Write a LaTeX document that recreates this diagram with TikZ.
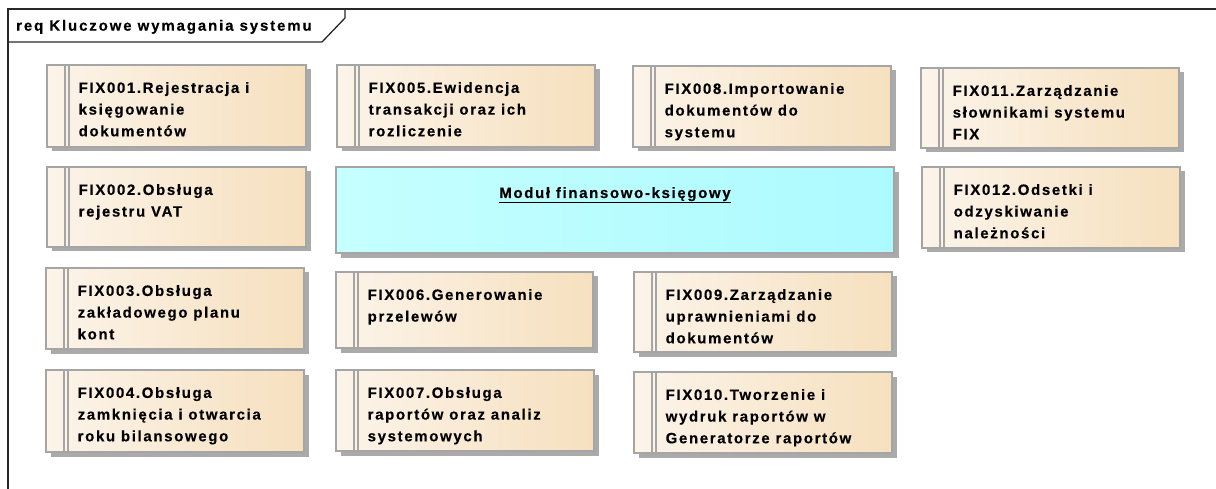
\documentclass[tikz,border=0pt]{standalone}
\usepackage{fontspec}
\setmainfont{Liberation Sans}
\newfontfamily\reqfont[LetterSpace=11,FakeBold=0.3]{Liberation Sans}
\newfontfamily\ttlfont[LetterSpace=12.5,FakeBold=0.3]{Liberation Sans}
\newfontfamily\modfont[LetterSpace=11,FakeBold=0.3]{Liberation Sans}
\usetikzlibrary{shadows}
\definecolor{reqL}{RGB}{252,244,234}
\definecolor{reqR}{RGB}{246,224,190}
\definecolor{modL}{RGB}{198,255,255}
\definecolor{modR}{RGB}{172,250,255}
\definecolor{boxgray}{RGB}{165,165,165}
\definecolor{shadowgray}{RGB}{170,170,170}
\definecolor{framecol}{RGB}{40,40,40}
\tikzset{
  reqbox/.style={draw=boxgray, line width=1.2pt, left color=reqL, right color=reqR,
    anchor=north west, inner sep=0pt, outer sep=0pt,
    general shadow={fill=shadowgray, shadow xshift=4.5pt, shadow yshift=-4.5pt}},
  modbox/.style={draw=boxgray, line width=1.2pt, left color=modL, right color=modR,
    anchor=north west, inner sep=0pt, outer sep=0pt,
    general shadow={fill=shadowgray, shadow xshift=5pt, shadow yshift=-5pt}},
  bandline/.style={draw=boxgray, line width=1.1pt},
  reqtext/.style={anchor=north west, inner sep=0pt, align=left, text=black,
    font=\reqfont\bfseries\fontsize{15}{21.7}\selectfont},
  titletext/.style={anchor=base west, inner sep=0pt, text=black,
    font=\ttlfont\bfseries\fontsize{15}{17}\selectfont},
  frameline/.style={draw=framecol, line width=1.3pt},
}
\newcommand\reqitem[6]{%
  \node[reqbox, minimum width=#4pt, minimum height=#5pt] (#1) at (#2,#3) {};
  \draw[bandline] ([xshift=18pt]#1.north west) -- ([xshift=18pt]#1.south west);
  \draw[bandline] ([xshift=22pt]#1.north west) -- ([xshift=22pt]#1.south west);
  \node[reqtext] (#1t) at ([xshift=31.5pt,yshift=-16.2pt]#1.north west) {\rule{0pt}{11.5pt}#6};
}
\begin{document}
\begin{tikzpicture}[x=1pt,y=-1pt]
\useasboundingbox (0,0) rectangle (1216,489);
% frame
\coordinate (ftl) at (8,9);
\coordinate (ftr) at (1216,9);
\coordinate (fbl) at (8,489);
\coordinate (tabA) at (8,42);
\coordinate (tabB) at (322,42);
\coordinate (tabC) at (345,18);
\coordinate (tabD) at (345,9);
\draw[frameline] (ftr) -- (ftl) -- (fbl);
\draw[frameline] (tabA) -- (tabB) -- (tabC) -- (tabD);
\node[titletext] (title) at (16,30.7) {req Kluczowe wymagania systemu};
% requirements
\reqitem{r1}{47}{65}{259}{82}{FIX001.Rejestracja i\\księgowanie\\dokumentów}
\reqitem{r5}{337}{65}{258}{82}{FIX005.Ewidencja\\transakcji oraz ich\\rozliczenie}
\reqitem{r8}{633}{66}{258}{81}{FIX008.Importowanie\\dokumentów do\\systemu}
\reqitem{r11}{921}{68}{258}{80}{FIX011.Zarządzanie\\słownikami systemu\\FIX}
\reqitem{r2}{47}{167}{259}{80}{FIX002.Obsługa\\rejestru VAT}
\reqitem{r12}{922}{167}{258}{81}{FIX012.Odsetki i\\odzyskiwanie\\należności}
\reqitem{r3}{46}{268}{258}{81}{FIX003.Obsługa\\zakładowego planu\\kont}
\reqitem{r6}{336}{272}{257}{76}{FIX006.Generowanie\\przelewów}
\reqitem{r9}{634}{272}{258}{80}{FIX009.Zarządzanie\\uprawnieniami do\\dokumentów}
\reqitem{r4}{46}{370}{258}{82}{FIX004.Obsługa\\zamknięcia i otwarcia\\roku bilansowego}
\reqitem{r7}{336}{370}{258}{81}{FIX007.Obsługa\\raportów oraz analiz\\systemowych}
\reqitem{r10}{634}{372}{258}{81}{FIX010.Tworzenie i\\wydruk raportów w\\Generatorze raportów}
% module
\node[modbox, minimum width=558pt, minimum height=86pt] (mod) at (336,167) {};
\node[anchor=base, inner sep=0pt, font=\modfont\bfseries\fontsize{15}{17}\selectfont] (modt)
  at ([yshift=-31pt]mod.north) {\underline{Moduł finansowo-księgowy}};
\end{tikzpicture}
\end{document}
